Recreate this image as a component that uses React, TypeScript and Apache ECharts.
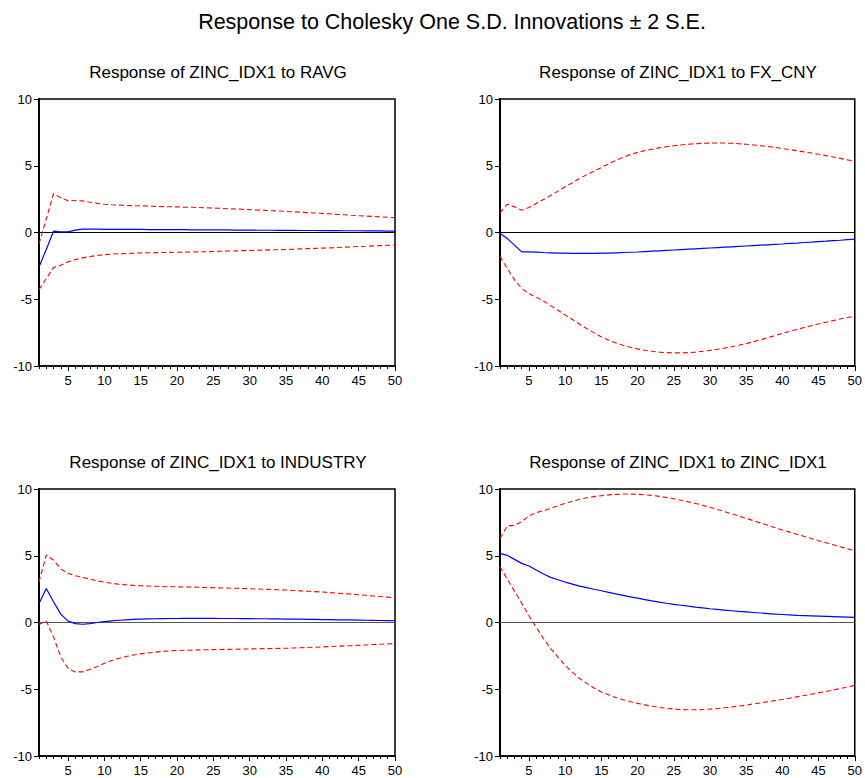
import React, { useEffect, useRef } from "react";
import * as echarts from "echarts";

const periods: string[] = Array.from({ length: 50 }, (_, i) => String(i + 1));

const mainTitle = "Response to Cholesky One S.D. Innovations \u00b1 2 S.E.";
const panelTitles = [
  "Response of ZINC_IDX1 to RAVG",
  "Response of ZINC_IDX1 to FX_CNY",
  "Response of ZINC_IDX1 to INDUSTRY",
  "Response of ZINC_IDX1 to ZINC_IDX1",
];

// Panel 1: RAVG
const ravgResp = [
  -2.58, -1.27, 0.1, 0.05, 0.05, 0.18, 0.25, 0.25, 0.25, 0.24,
  0.24, 0.24, 0.23, 0.23, 0.23, 0.22, 0.22, 0.22, 0.21, 0.21,
  0.21, 0.2, 0.2, 0.2, 0.19, 0.19, 0.19, 0.18, 0.18, 0.18,
  0.17, 0.17, 0.17, 0.16, 0.16, 0.16, 0.15, 0.15, 0.15, 0.14,
  0.14, 0.14, 0.13, 0.13, 0.13, 0.12, 0.12, 0.12, 0.11, 0.11,
];
const ravgUpper = [
  -0.85, 1.0, 2.92, 2.6, 2.37, 2.4, 2.37, 2.27, 2.18, 2.12,
  2.08, 2.05, 2.03, 2.01, 2.0, 1.98, 1.96, 1.94, 1.93, 1.92,
  1.9, 1.89, 1.87, 1.85, 1.83, 1.81, 1.78, 1.76, 1.74, 1.71,
  1.69, 1.66, 1.63, 1.61, 1.58, 1.55, 1.52, 1.49, 1.46, 1.43,
  1.4, 1.36, 1.33, 1.29, 1.26, 1.23, 1.2, 1.17, 1.14, 1.1,
];
const ravgLower = [
  -4.28, -3.45, -2.63, -2.45, -2.2, -2.03, -1.9, -1.8, -1.72, -1.66,
  -1.62, -1.59, -1.57, -1.55, -1.53, -1.52, -1.51, -1.5, -1.49, -1.48,
  -1.47, -1.46, -1.45, -1.44, -1.42, -1.41, -1.39, -1.38, -1.36, -1.35,
  -1.33, -1.32, -1.3, -1.29, -1.27, -1.25, -1.23, -1.21, -1.19, -1.17,
  -1.15, -1.13, -1.1, -1.08, -1.05, -1.03, -1.0, -0.98, -0.96, -0.93,
];

// Panel 2: FX_CNY
const fxResp = [
  -0.05, -0.45, -0.95, -1.45, -1.45, -1.47, -1.5, -1.52, -1.54, -1.55,
  -1.56, -1.57, -1.57, -1.56, -1.55, -1.54, -1.52, -1.5, -1.48, -1.46,
  -1.43, -1.4, -1.37, -1.34, -1.31, -1.28, -1.25, -1.22, -1.19, -1.16,
  -1.13, -1.1, -1.07, -1.04, -1.01, -0.98, -0.95, -0.92, -0.89, -0.86,
  -0.82, -0.79, -0.75, -0.72, -0.68, -0.65, -0.61, -0.58, -0.54, -0.5,
];
const fxUpper = [
  1.47, 2.12, 1.92, 1.67, 1.87, 2.17, 2.47, 2.77, 3.1, 3.42,
  3.73, 4.05, 4.33, 4.6, 4.87, 5.14, 5.4, 5.63, 5.84, 6.0,
  6.13, 6.24, 6.34, 6.42, 6.5, 6.56, 6.61, 6.65, 6.68, 6.7,
  6.7, 6.7, 6.68, 6.65, 6.61, 6.56, 6.5, 6.44, 6.37, 6.29,
  6.21, 6.13, 6.04, 5.95, 5.86, 5.76, 5.66, 5.55, 5.44, 5.33,
];
const fxLower = [
  -1.78, -2.7, -3.53, -4.2, -4.58, -4.85, -5.13, -5.48, -5.83, -6.18,
  -6.52, -6.87, -7.2, -7.52, -7.82, -8.06, -8.27, -8.45, -8.6, -8.72,
  -8.82, -8.9, -8.96, -9.0, -9.02, -9.02, -9.0, -8.96, -8.9, -8.83,
  -8.75, -8.66, -8.56, -8.45, -8.33, -8.18, -8.03, -7.88, -7.72, -7.56,
  -7.41, -7.26, -7.12, -6.98, -6.85, -6.72, -6.6, -6.48, -6.37, -6.27,
];

// Panel 3: INDUSTRY
const indResp = [
  1.43, 2.55, 1.55, 0.63, 0.1, -0.08, -0.13, -0.08, 0.0, 0.06,
  0.12, 0.17, 0.2, 0.23, 0.25, 0.27, 0.28, 0.29, 0.3, 0.3,
  0.31, 0.31, 0.31, 0.31, 0.31, 0.3, 0.3, 0.3, 0.29, 0.29,
  0.28, 0.28, 0.27, 0.27, 0.26, 0.25, 0.25, 0.24, 0.23, 0.22,
  0.21, 0.2, 0.2, 0.19, 0.18, 0.17, 0.16, 0.15, 0.14, 0.13,
];
const indUpper = [
  3.05, 5.05, 4.68, 4.0, 3.68, 3.5, 3.38, 3.25, 3.12, 3.02,
  2.94, 2.87, 2.82, 2.78, 2.75, 2.73, 2.71, 2.69, 2.68, 2.67,
  2.66, 2.65, 2.64, 2.62, 2.61, 2.59, 2.58, 2.56, 2.55, 2.53,
  2.51, 2.49, 2.47, 2.45, 2.43, 2.4, 2.37, 2.34, 2.31, 2.28,
  2.24, 2.2, 2.16, 2.12, 2.08, 2.04, 1.99, 1.95, 1.9, 1.85,
];
const indLower = [
  -0.15, 0.12, -1.08, -2.58, -3.45, -3.7, -3.7, -3.52, -3.3, -3.05,
  -2.85, -2.68, -2.55, -2.44, -2.35, -2.28, -2.22, -2.17, -2.13, -2.1,
  -2.08, -2.07, -2.05, -2.04, -2.03, -2.02, -2.01, -2.0, -1.99, -1.98,
  -1.97, -1.96, -1.95, -1.94, -1.93, -1.91, -1.89, -1.87, -1.85, -1.83,
  -1.8, -1.78, -1.75, -1.73, -1.7, -1.68, -1.65, -1.63, -1.6, -1.58,
];

// Panel 4: ZINC_IDX1
const zincResp = [
  5.18, 5.03, 4.73, 4.43, 4.23, 3.93, 3.63, 3.38, 3.2, 3.03,
  2.88, 2.73, 2.61, 2.49, 2.38, 2.26, 2.14, 2.03, 1.92, 1.82,
  1.72, 1.62, 1.53, 1.44, 1.36, 1.29, 1.22, 1.15, 1.09, 1.03,
  0.98, 0.93, 0.88, 0.83, 0.79, 0.75, 0.71, 0.67, 0.63, 0.6,
  0.57, 0.54, 0.52, 0.5, 0.48, 0.46, 0.44, 0.42, 0.4, 0.38,
];
const zincUpper = [
  6.3, 7.23, 7.28, 7.55, 7.98, 8.23, 8.38, 8.55, 8.75, 8.93,
  9.08, 9.23, 9.35, 9.43, 9.5, 9.56, 9.6, 9.62, 9.62, 9.6,
  9.57, 9.52, 9.45, 9.36, 9.27, 9.16, 9.04, 8.92, 8.78, 8.63,
  8.47, 8.31, 8.14, 7.97, 7.8, 7.63, 7.45, 7.28, 7.1, 6.93,
  6.77, 6.61, 6.45, 6.29, 6.13, 5.98, 5.83, 5.68, 5.53, 5.38,
];
const zincLower = [
  4.18, 3.25, 2.35, 1.45, 0.5, -0.35, -1.2, -1.95, -2.6, -3.2,
  -3.72, -4.2, -4.57, -4.9, -5.2, -5.42, -5.62, -5.78, -5.93, -6.06,
  -6.17, -6.27, -6.36, -6.43, -6.48, -6.52, -6.54, -6.54, -6.52, -6.49,
  -6.44, -6.39, -6.33, -6.26, -6.19, -6.1, -6.02, -5.93, -5.85, -5.77,
  -5.67, -5.57, -5.47, -5.37, -5.27, -5.17, -5.06, -4.95, -4.83, -4.7,
];

const panels = [
  { resp: ravgResp, upper: ravgUpper, lower: ravgLower },
  { resp: fxResp, upper: fxUpper, lower: fxLower },
  { resp: indResp, upper: indUpper, lower: indLower },
  { resp: zincResp, upper: zincUpper, lower: zincLower },
];

const FONT = "'Liberation Sans', Arial, sans-serif";

export default function App() {
  const ref = useRef<HTMLDivElement>(null);

  useEffect(() => {
    if (!ref.current) return;
    const chart = echarts.init(ref.current, null, { renderer: "svg" });

    const gridPos = [
      { left: 39, top: 99 },
      { left: 500, top: 99 },
      { left: 39, top: 489 },
      { left: 500, top: 489 },
    ];
    const W = 356;
    const H = 267;

    const grids = gridPos.map((p) => ({
      left: p.left,
      top: p.top,
      width: W,
      height: H,
      show: true,
      borderColor: "#000",
      borderWidth: 1.5,
      backgroundColor: "transparent",
      containLabel: false,
    }));

    const xAxes: any[] = [];
    const yAxes: any[] = [];
    const series: any[] = [];
    const isFive = (i: number) => (i + 1) % 5 === 0;

    panels.forEach((p, g) => {
      xAxes.push({
        type: "category",
        gridIndex: g,
        data: periods,
        position: "bottom",
        boundaryGap: false,
        axisLine: { show: true, onZero: false, lineStyle: { color: "#000", width: 1.5 } },
        axisTick: { show: true, interval: 0, length: 3, lineStyle: { color: "#000" } },
        axisLabel: { show: false },
        splitLine: { show: false },
      });
      xAxes.push({
        type: "category",
        gridIndex: g,
        data: periods,
        position: "bottom",
        boundaryGap: false,
        axisLine: { show: false, onZero: false },
        axisTick: { show: true, interval: isFive, length: 5, lineStyle: { color: "#000" } },
        axisLabel: {
          show: true,
          interval: isFive,
          color: "#000",
          fontSize: 13,
          fontFamily: FONT,
          margin: 8,
        },
        splitLine: { show: false },
      });
      yAxes.push({
        type: "value",
        gridIndex: g,
        min: -10,
        max: 10,
        interval: 5,
        axisLine: { show: true, onZero: false, lineStyle: { color: "#000", width: 2 } },
        axisTick: { show: true, length: 5, lineStyle: { color: "#000" } },
        axisLabel: { color: "#000", fontSize: 13, fontFamily: FONT, margin: 7 },
        splitLine: { show: false },
      });
      const xi = g * 2;
      const zeroColor = g < 2 ? "#000" : "#555";
      series.push({
        type: "line",
        xAxisIndex: xi,
        yAxisIndex: g,
        data: p.resp,
        showSymbol: false,
        symbol: "none",
        lineStyle: { color: "#0000ff", width: 1.2 },
        z: 4,
        markLine: {
          silent: true,
          symbol: ["none", "none"],
          label: { show: false },
          lineStyle: { color: zeroColor, width: 1, type: "solid" },
          data: [{ yAxis: 0 }],
          z: 1,
        },
      });
      series.push({
        type: "line",
        xAxisIndex: xi,
        yAxisIndex: g,
        data: p.upper,
        showSymbol: false,
        symbol: "none",
        lineStyle: { color: "#ff0000", width: 1.1, type: [5, 3] },
        z: 3,
      });
      series.push({
        type: "line",
        xAxisIndex: xi,
        yAxisIndex: g,
        data: p.lower,
        showSymbol: false,
        symbol: "none",
        lineStyle: { color: "#ff0000", width: 1.1, type: [5, 3] },
        z: 3,
      });
    });

    const titleCenters = [
      { x: 218, y: 72 },
      { x: 678, y: 72 },
      { x: 218, y: 462 },
      { x: 678, y: 462 },
    ];

    const graphics: any[] = [
      {
        type: "text",
        x: 452,
        y: 22,
        style: {
          text: mainTitle,
          fill: "#000",
          font: `21.5px ${FONT}`,
          textAlign: "center",
          textVerticalAlign: "middle",
        },
      },
      ...panelTitles.map((t, i) => ({
        type: "text",
        x: titleCenters[i].x,
        y: titleCenters[i].y,
        style: {
          text: t,
          fill: "#000",
          font: `17px ${FONT}`,
          textAlign: "center",
          textVerticalAlign: "middle",
        },
      })),
    ];

    chart.setOption({
      animation: false,
      backgroundColor: "#fff",
      grid: grids,
      xAxis: xAxes,
      yAxis: yAxes,
      series,
      graphic: graphics,
    });

    return () => chart.dispose();
  }, []);

  return (
    <div
      ref={ref}
      style={{ position: "fixed", left: 0, top: 0, width: 865, height: 778 }}
    />
  );
}
